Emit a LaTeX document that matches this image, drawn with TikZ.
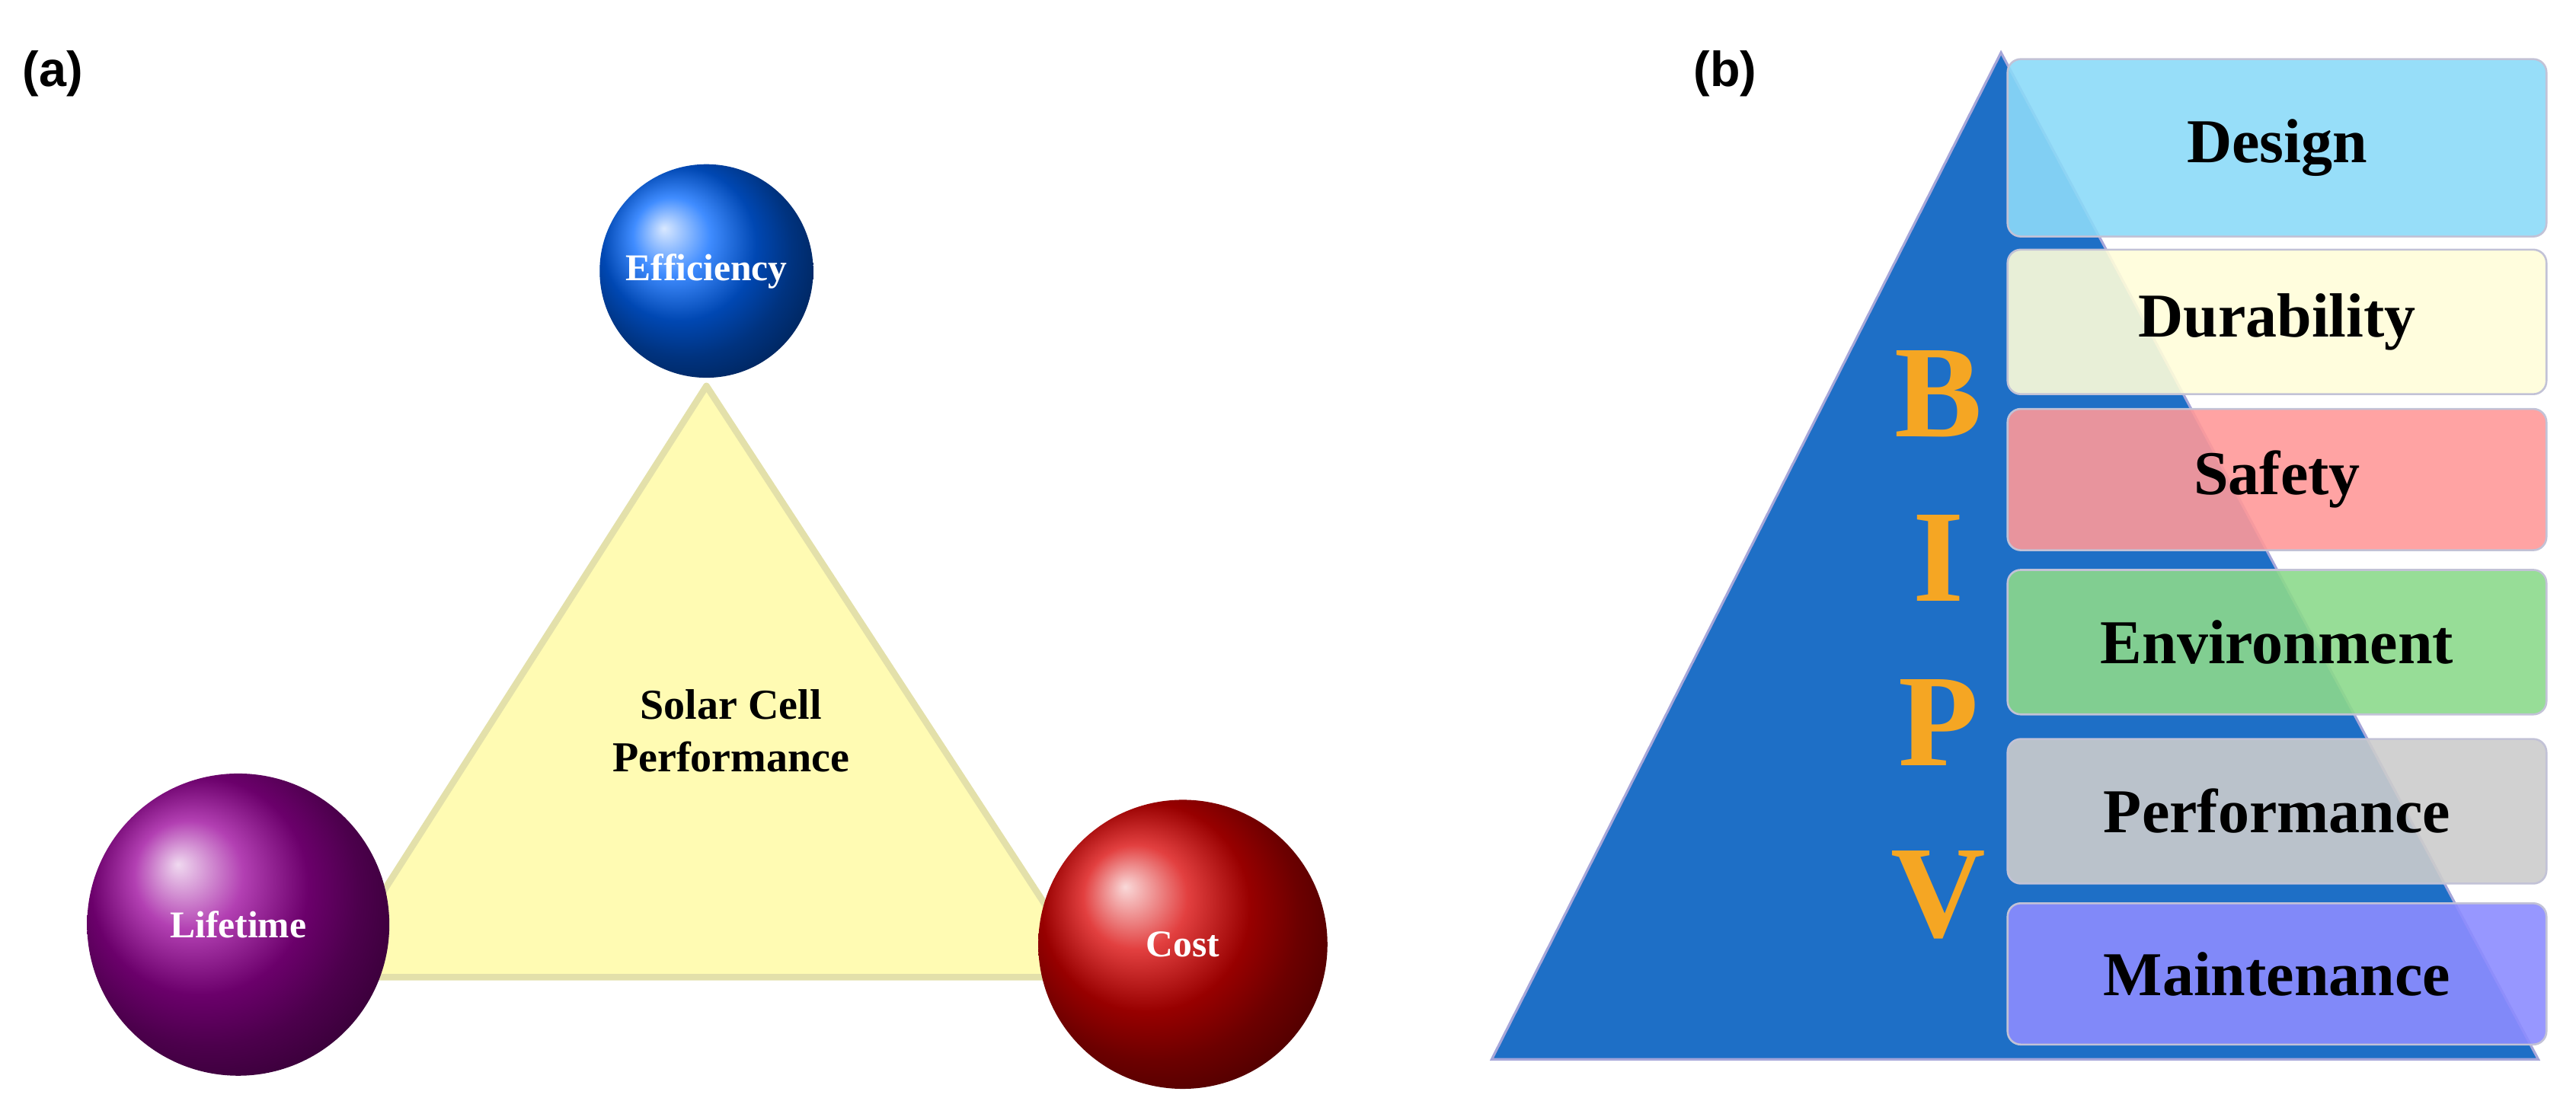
\documentclass[tikz,border=0pt]{standalone}
\usepackage{fontspec}
\setmainfont{Liberation Serif}
\newfontfamily\lab{Liberation Sans}
\usetikzlibrary{shapes.geometric}
\definecolor{pyr}{HTML}{1E6FC6}
\definecolor{gold}{HTML}{F5A623}
\begin{document}
\begin{tikzpicture}[x=1pt,y=-1pt,
  sph/.style={circle,minimum size=#1,inner sep=0pt,font=\fontsize{23}{25}\selectfont\bfseries,text=white},
  box/.style={draw=blue!20!gray!40,line width=1.2pt,rounded corners=8pt,minimum width=328pt,inner sep=0pt,font=\fontsize{38}{40}\selectfont\bfseries,fill opacity=0.9,text opacity=1},
  let/.style={text=gold,font=\fontsize{80}{80}\selectfont\bfseries}]
\useasboundingbox (0,0) rectangle (1568,670.4);
\node[font=\lab\fontsize{30}{30}\selectfont\bfseries] (la) at (32,45) {(a)};
\node[font=\lab\fontsize{30}{30}\selectfont\bfseries] (lb) at (1050,45) {(b)};
% triangle
\draw[fill=yellow!30,draw=yellow!50!gray!50,line width=4pt,line join=round] (430,235) -- (665,595) -- (200,595) -- cycle;
\node[font=\fontsize{26}{32}\selectfont\bfseries,align=center] (t) at (445,445) {Solar Cell\\Performance};
\node[sph=130pt,ball color=blue!60!cyan] (e) at (430,165) {Efficiency};
\node[sph=184pt,ball color=violet!80!magenta] (l) at (145,563) {Lifetime};
\node[sph=176pt,ball color=red!85!black] (c) at (720,575) {Cost};
% pyramid
\draw[fill=pyr,draw=blue!40!gray!50,line width=1.5pt] (1218,32) -- (1545,645) -- (908,645) -- cycle;
\node[box,fill=cyan!45!white,minimum height=108pt] (d1) at (1386,90) {Design};
\node[box,fill=yellow!15,minimum height=88pt] (d2) at (1386,196) {Durability};
\node[box,fill=red!40,minimum height=86pt] (d3) at (1386,292) {Safety};
\node[box,fill=green!50!gray!60,minimum height=88pt] (d4) at (1386,391) {Environment};
\node[box,fill=gray!40,minimum height=88pt] (d5) at (1386,494) {Performance};
\node[box,fill=blue!45,minimum height=86pt] (d6) at (1386,593) {Maintenance};
\node[let] (B) at (1180,240) {B};
\node[let] (I) at (1180,340) {I};
\node[let] (P) at (1180,440) {P};
\node[let] (V) at (1180,545) {V};
\end{tikzpicture}
\end{document}
